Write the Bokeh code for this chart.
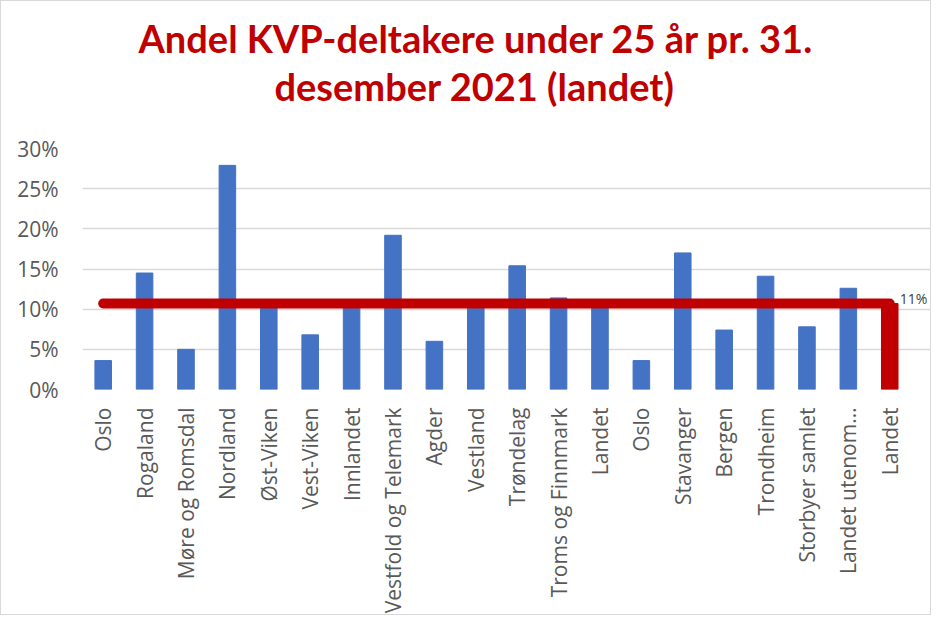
from bokeh.plotting import figure
from bokeh.models import Range1d, FixedTicker, NumeralTickFormatter, Title, Label, ColumnDataSource
from bokeh.embed import file_html
from bokeh.resources import INLINE
import math

categories = ["Oslo", "Rogaland", "Møre og Romsdal", "Nordland", "Øst-Viken", "Vest-Viken",
              "Innlandet", "Vestfold og Telemark", "Agder", "Vestland", "Trøndelag",
              "Troms og Finnmark", "Landet", "Oslo", "Stavanger", "Bergen", "Trondheim",
              "Storbyer samlet", "Landet utenom…", "Landet"]
shares = [0.036, 0.145, 0.050, 0.279, 0.103, 0.068, 0.104, 0.192, 0.060, 0.104, 0.154,
          0.114, 0.107, 0.036, 0.170, 0.074, 0.141, 0.078, 0.126, 0.107]
landet_avg = 0.107
avg_label = "11%"
y_ticks = [0, 0.05, 0.10, 0.15, 0.20, 0.25, 0.30]
title_lines = ["Andel KVP-deltakere under 25 år pr. 31.", "desember 2021 (landet)"]

BLUE = "#4472C4"
RED = "#C00000"

xs = list(range(len(categories)))
blue_src = ColumnDataSource(dict(x=xs[:-1], top=shares[:-1]))
red_src = ColumnDataSource(dict(x=xs[-1:], top=shares[-1:]))
line_src = ColumnDataSource(dict(x=xs, y=[landet_avg] * len(xs)))

# frame spans 81..929 px; categories spaced about as in the reference
x_end = -0.5 + 848 / 41.3
p = figure(width=931, height=615, output_backend="svg", toolbar_location=None,
           x_range=Range1d(-0.5, x_end), y_range=Range1d(0, 0.30),
           min_border_left=81, min_border_right=0, min_border_top=147, min_border_bottom=226)
p.outline_line_color = None
p.background_fill_color = "white"
p.border_fill_color = "white"
p.styles = {"border": "1px solid #D9D9D9"}

# spacer between the frame and the title
p.add_layout(Title(text=" ", text_font_size="20px", standoff=16, offset=0), "above")
p.add_layout(Title(text=title_lines[1], align="left", text_color=RED, text_font_size="38px",
                   text_font_style="bold", text_font="Lato", standoff=0, offset=192), "above")
p.add_layout(Title(text=title_lines[0], align="left", text_color=RED, text_font_size="38px",
                   text_font_style="bold", text_font="Lato", standoff=0, offset=56), "above")

p.vbar(x="x", top="top", width=0.4, source=blue_src, color=BLUE)
p.vbar(x="x", top="top", width=0.4, source=red_src, color=RED)
p.line(x="x", y="y", source=line_src, line_color=RED, line_width=10,
       line_cap="round", line_join="round")

p.add_layout(Label(x=xs[-1], y=landet_avg, text=avg_label, x_offset=10, y_offset=5,
                   text_font_size="14px", text_color="#404040", text_font="Open Sans",
                   text_baseline="middle"))

p.ygrid.ticker = FixedTicker(ticks=y_ticks)
p.ygrid.grid_line_color = "#D9D9D9"
p.ygrid.grid_line_width = 1.5
p.xgrid.grid_line_color = None

p.yaxis.ticker = FixedTicker(ticks=y_ticks)
p.yaxis.formatter = NumeralTickFormatter(format="0%")
p.yaxis.axis_line_color = None
p.yaxis.major_tick_line_color = None
p.yaxis.minor_tick_line_color = None
p.yaxis.major_label_standoff = 18
p.yaxis.major_label_text_font = "Open Sans"
p.yaxis.major_label_text_font_size = "21px"
p.yaxis.major_label_text_color = "#595959"

p.xaxis.ticker = FixedTicker(ticks=xs)
p.xaxis.major_label_overrides = {i: c for i, c in enumerate(categories)}
p.xaxis.major_label_orientation = math.pi / 2
p.xaxis.axis_line_color = None
p.xaxis.major_tick_line_color = None
p.xaxis.minor_tick_line_color = None
p.xaxis.major_label_standoff = 12
p.xaxis.major_label_text_font = "Open Sans"
p.xaxis.major_label_text_font_size = "21px"
p.xaxis.major_label_text_color = "#595959"

open("out.html", "w").write(file_html(p, INLINE))
